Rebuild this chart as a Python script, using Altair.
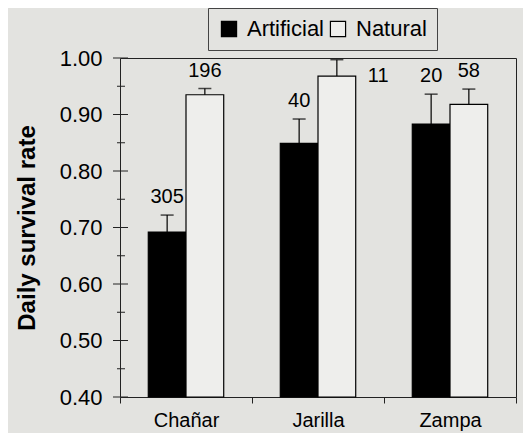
import altair as alt
import pandas as pd

sites = ["Chañar", "Jarilla", "Zampa"]
types = ["Artificial", "Natural"]
art_mean = [0.692, 0.849, 0.883]
art_err = [0.722, 0.892, 0.936]
nat_mean = [0.935, 0.968, 0.918]
nat_err = [0.946, 0.997, 0.945]
art_n = [305, 40, 20]
nat_n = [196, 11, 58]
y_major = [0.40, 0.50, 0.60, 0.70, 0.80, 0.90, 1.00]
y_minor = [0.45, 0.55, 0.65, 0.75, 0.85, 0.95]

rows = []
for i, s in enumerate(sites):
    rows.append({"site": s, "type": "Artificial", "mean": art_mean[i], "err": art_err[i], "n": art_n[i]})
    rows.append({"site": s, "type": "Natural", "mean": nat_mean[i], "err": nat_err[i], "n": nat_n[i]})
df = pd.DataFrame(rows)

FONT = "Liberation Sans"
BG = "#e3e3e0"

yscale = alt.Scale(domain=[0.4, 1.0], nice=False, zero=False)

base = alt.Chart(df).encode(
    x=alt.X("site:N", sort=sites, title=None,
            scale=alt.Scale(paddingInner=0, paddingOuter=0),
            axis=alt.Axis(labelAngle=0, labelFontSize=20, labelFont=FONT, labelColor="black",
                          domain=False, tickBand="extent", tickSize=6, tickColor="#222",
                          labelPadding=7)),
    xOffset=alt.XOffset("type:N", sort=types,
                        scale=alt.Scale(paddingOuter=0.75, paddingInner=0)),
)

bars = base.mark_bar(stroke="black", strokeWidth=1.2).encode(
    y=alt.Y("mean:Q", scale=yscale,
            axis=alt.Axis(values=y_major, format=".2f", ticks=False, tickSize=0, domain=False,
                          grid=False, labelFontSize=22, labelFont=FONT, labelColor="black",
                          labelPadding=18, title="Daily survival rate", titleFontSize=24,
                          titleFont=FONT, titleFontWeight="bold", titleColor="black",
                          titlePadding=20)),
    y2=alt.datum(0.4),
    fill=alt.Fill("type:N", sort=types,
                  scale=alt.Scale(domain=types, range=["#000000", "#eeeeec"]),
                  legend=alt.Legend(orient="none", legendX=88, legendY=-50, direction="horizontal",
                                    title=None, symbolType="square", symbolSize=230,
                                    symbolStrokeColor="black", symbolStrokeWidth=1.2,
                                    labelFontSize=22, labelFont=FONT, labelColor="black",
                                    strokeColor="#444", padding=10, columnPadding=2,
                                    labelOffset=7)),
)

stems = base.mark_rule(color="black", strokeWidth=1.2).encode(
    y=alt.Y("mean:Q", scale=yscale), y2="err:Q")
caps = base.mark_tick(color="black", thickness=1.5, size=13).encode(
    y=alt.Y("err:Q", scale=yscale))

labels = base.transform_filter("datum.err < 0.98").mark_text(
    baseline="alphabetic", dy=-12, fontSize=20, font=FONT, color="black").encode(
    y=alt.Y("err:Q", scale=yscale), text="n:Q")
labels_side = base.transform_filter("datum.err >= 0.98").mark_text(
    align="left", baseline="middle", dx=31, fontSize=20, font=FONT, color="black").encode(
    y=alt.Y("mean:Q", scale=yscale), text="n:Q")

major_df = pd.DataFrame({"v": y_major})
minor_df = pd.DataFrame({"v": y_minor})
ticks_major = alt.Chart(major_df).mark_rule(color="#222", strokeWidth=1).encode(
    y=alt.Y("v:Q", scale=yscale), x=alt.value(-7), x2=alt.value(8))
ticks_minor = alt.Chart(minor_df).mark_rule(color="#222", strokeWidth=1).encode(
    y=alt.Y("v:Q", scale=yscale), x=alt.value(-3), x2=alt.value(5))

chart = alt.layer(bars, stems, caps, labels, labels_side, ticks_major, ticks_minor).properties(
    width=396, height=339,
    autosize=alt.AutoSizeParams(type="none"),
    padding={"left": 112, "top": 50, "right": 7, "bottom": 36},
    background=BG,
).configure_view(stroke="#222", strokeWidth=1)

chart.save("out.html", embed_options={"renderer": "svg", "actions": False})
